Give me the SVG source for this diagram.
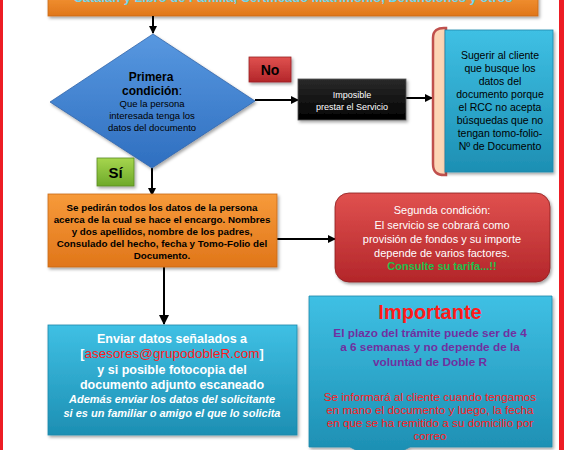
<svg xmlns="http://www.w3.org/2000/svg" width="564" height="450" viewBox="0 0 564 450">
<style>
text{font-family:"Liberation Sans",Arial,sans-serif;text-anchor:middle}
.b{font-weight:bold}
.conn{stroke:#000;stroke-width:2;fill:none}
</style>
<defs>
<marker id="ah" markerWidth="8" markerHeight="8" refX="7" refY="4" orient="auto" markerUnits="userSpaceOnUse">
<path d="M0,0 L8,4 L0,8 Z" fill="#000"/>
</marker>
<marker id="ah2" markerWidth="10" markerHeight="10" refX="9" refY="5" orient="auto" markerUnits="userSpaceOnUse">
<path d="M0,0 L10,5 L0,10 Z" fill="#000"/>
</marker>
<linearGradient id="gOr" x1="0" y1="0" x2="0" y2="1"><stop offset="0" stop-color="#f79a3a"/><stop offset="1" stop-color="#e0761a"/></linearGradient>
<linearGradient id="gCy" x1="0" y1="0" x2="0" y2="1"><stop offset="0" stop-color="#3fc0e4"/><stop offset="1" stop-color="#1d8fb3"/></linearGradient>
<linearGradient id="gBl" x1="0" y1="0" x2="0" y2="1"><stop offset="0" stop-color="#5898e0"/><stop offset="1" stop-color="#2f6fc0"/></linearGradient>
<linearGradient id="gRd" x1="0" y1="0" x2="0" y2="1"><stop offset="0" stop-color="#e0514f"/><stop offset="1" stop-color="#b3262a"/></linearGradient>
<linearGradient id="gGr" x1="0" y1="0" x2="0" y2="1"><stop offset="0" stop-color="#a6d64e"/><stop offset="1" stop-color="#6ea92a"/></linearGradient>
<linearGradient id="gBk" x1="0" y1="0" x2="0" y2="1"><stop offset="0" stop-color="#2a2a2a"/><stop offset="1" stop-color="#000"/></linearGradient>
<filter id="sh" x="-10%" y="-10%" width="130%" height="130%"><feDropShadow dx="1.5" dy="2" stdDeviation="1.5" flood-color="#000" flood-opacity="0.35"/></filter>
</defs>
<rect x="0" y="0" width="564" height="450" fill="#fff"/>
<rect x="0" y="0" width="3" height="450" fill="#ed1c24"/>
<rect x="559" y="0" width="5" height="450" fill="#ed1c24"/>

<g id="top-box">
<rect x="48" y="-10" width="490" height="26" fill="url(#gOr)" stroke="#c86a18" stroke-width="0.8" filter="url(#sh)"/>
<text x="293" y="2" class="b" font-size="12" fill="#6fd6ea" textLength="439" lengthAdjust="spacingAndGlyphs">Catalán y Libro de Familia, Certificado Matrimonio, Defunciones y otros</text>
</g>

<g id="connectors">
<line class="conn" x1="153" y1="16" x2="153" y2="33" marker-end="url(#ah)"/>
<line class="conn" x1="255" y1="100" x2="298" y2="100" marker-end="url(#ah)"/>
<line class="conn" x1="406" y1="98" x2="432" y2="98" marker-end="url(#ah)"/>
<line class="conn" x1="152" y1="168" x2="152" y2="195" marker-end="url(#ah)"/>
<line class="conn" x1="277" y1="239" x2="335" y2="239" marker-end="url(#ah)"/>
<line class="conn" x1="164" y1="267" x2="164" y2="324" stroke-width="3" marker-end="url(#ah2)"/>
</g>

<g id="diamond">
<polygon points="153,34 255,101 152,168 50,102" fill="url(#gBl)" stroke="#3366aa" stroke-width="0.8" filter="url(#sh)"/>
<text x="151" y="81" class="b" font-size="12">Primera</text>
<text x="152" y="95" font-size="12"><tspan class="b">condición</tspan>:</text>
<text x="152" y="107" font-size="9.5">Que la persona</text>
<text x="152" y="119" font-size="9.5">interesada  tenga los</text>
<text x="152" y="131" font-size="9.5">datos del documento</text>
</g>

<g id="no">
<rect x="249" y="57" width="42" height="25" fill="url(#gRd)" stroke="#9a2022" stroke-width="0.8" filter="url(#sh)"/>
<text x="270" y="75" class="b" font-size="14">No</text>
</g>

<g id="imposible">
<rect x="298" y="79" width="108" height="41" fill="url(#gBk)" stroke="#555" stroke-width="0.8" filter="url(#sh)"/>
<text x="352" y="98" font-size="9" fill="#fff">Imposible</text>
<text x="352" y="110" font-size="9" fill="#fff">prestar el Servicio</text>
</g>

<g id="sugerir">
<path d="M446,28 Q433,27 433,38 L433,164 Q433,176 446,175 Z" fill="#fcd5b5" stroke="#c0504d" stroke-width="2.5"/>
<rect x="445" y="30" width="108" height="142" fill="url(#gCy)" stroke="#1c88ab" stroke-width="0.8" filter="url(#sh)"/>
<text x="500" y="59" font-size="10.5">Sugerir al cliente</text>
<text x="500" y="72" font-size="10.5">que busque los</text>
<text x="500" y="85" font-size="10.5">datos del</text>
<text x="500" y="98" font-size="10.5">documento porque</text>
<text x="500" y="111" font-size="10.5">el RCC no acepta</text>
<text x="500" y="124" font-size="10.5">búsquedas que no</text>
<text x="500" y="137" font-size="10.5">tengan tomo-folio-</text>
<text x="500" y="150" font-size="10.5">Nº de Documento</text>
</g>

<g id="si">
<rect x="97" y="158" width="37" height="28" fill="url(#gGr)" stroke="#5a8a22" stroke-width="0.8" filter="url(#sh)"/>
<text x="115.5" y="178" class="b" font-size="15">Sí</text>
</g>

<g id="datos">
<rect x="48" y="194" width="229" height="73" fill="url(#gOr)" stroke="#c86a18" stroke-width="0.8" filter="url(#sh)"/>
<text x="162" y="211" class="b" font-size="9.8">Se pedirán  todos los datos de la persona</text>
<text x="162" y="223" class="b" font-size="9.8">acerca de la cual se hace el encargo. Nombres</text>
<text x="162" y="235" class="b" font-size="9.8">y dos apellidos, nombre de los padres,</text>
<text x="162" y="247" class="b" font-size="9.8">Consulado del hecho, fecha y Tomo-Folio del</text>
<text x="162" y="259" class="b" font-size="9.8">Documento.</text>
</g>

<g id="segunda">
<rect x="335" y="193" width="215" height="89" rx="14" fill="url(#gRd)" stroke="#8a1e20" stroke-width="0.8" filter="url(#sh)"/>
<text x="442" y="214" font-size="11" fill="#fff">Segunda condición:</text>
<text x="442" y="229" font-size="11" fill="#fff">El servicio se cobrará como</text>
<text x="442" y="243" font-size="11" fill="#fff">provisión de fondos y su importe</text>
<text x="442" y="257" font-size="11" fill="#fff">depende de varios factores.</text>
<text x="442" y="270" class="b" font-size="11" fill="#22c04a">Consulte su tarifa...!!</text>
</g>

<g id="enviar">
<rect x="48" y="325" width="249" height="110" fill="url(#gCy)" stroke="#1c88ab" stroke-width="0.8" filter="url(#sh)"/>
<text x="172" y="343" class="b" font-size="12.5" fill="#fff">Enviar datos señalados a</text>
<text x="172" y="358" class="b" font-size="12.5" fill="#fff">[<tspan fill="#ff1a1a" font-weight="normal" font-size="13.5">asesores@grupodobleR.com</tspan>]</text>
<text x="172" y="374" class="b" font-size="12.5" fill="#fff">y si posible fotocopia del</text>
<text x="172" y="389" class="b" font-size="12.5" fill="#fff">documento adjunto escaneado</text>
<text x="172" y="403" class="b" font-size="11" font-style="italic" fill="#fff">Además enviar los datos del solicitante</text>
<text x="172" y="417" class="b" font-size="11" font-style="italic" fill="#fff">si es un familiar o amigo el que lo solicita</text>
</g>

<g id="importante">
<path d="M309,296 L552,296 L552,447 L410,447 L400,452 L360,452 L350,447 L309,447 Z" fill="url(#gCy)" stroke="#1c88ab" stroke-width="0.8" filter="url(#sh)"/>
<text x="430" y="319" class="b" font-size="20" fill="#ff1a1a">Importante</text>
<text x="430" y="337" class="b" font-size="11.8" fill="#7030a0">El plazo del trámite puede ser de 4</text>
<text x="430" y="351" class="b" font-size="11.8" fill="#7030a0">a 6 semanas y no depende de la</text>
<text x="430" y="366" class="b" font-size="11.8" fill="#7030a0">voluntad de Doble R</text>
<text x="430" y="401" font-size="11.7" fill="#ff1a1a">Se informará al cliente cuando tengamos</text>
<text x="430" y="414" font-size="11.7" fill="#ff1a1a">en mano el documento y luego, la fecha</text>
<text x="430" y="427" font-size="11.7" fill="#ff1a1a">en que se ha remitido a su domicilio por</text>
<text x="430" y="440" font-size="11.7" fill="#ff1a1a">correo</text>
</g>
</svg>
